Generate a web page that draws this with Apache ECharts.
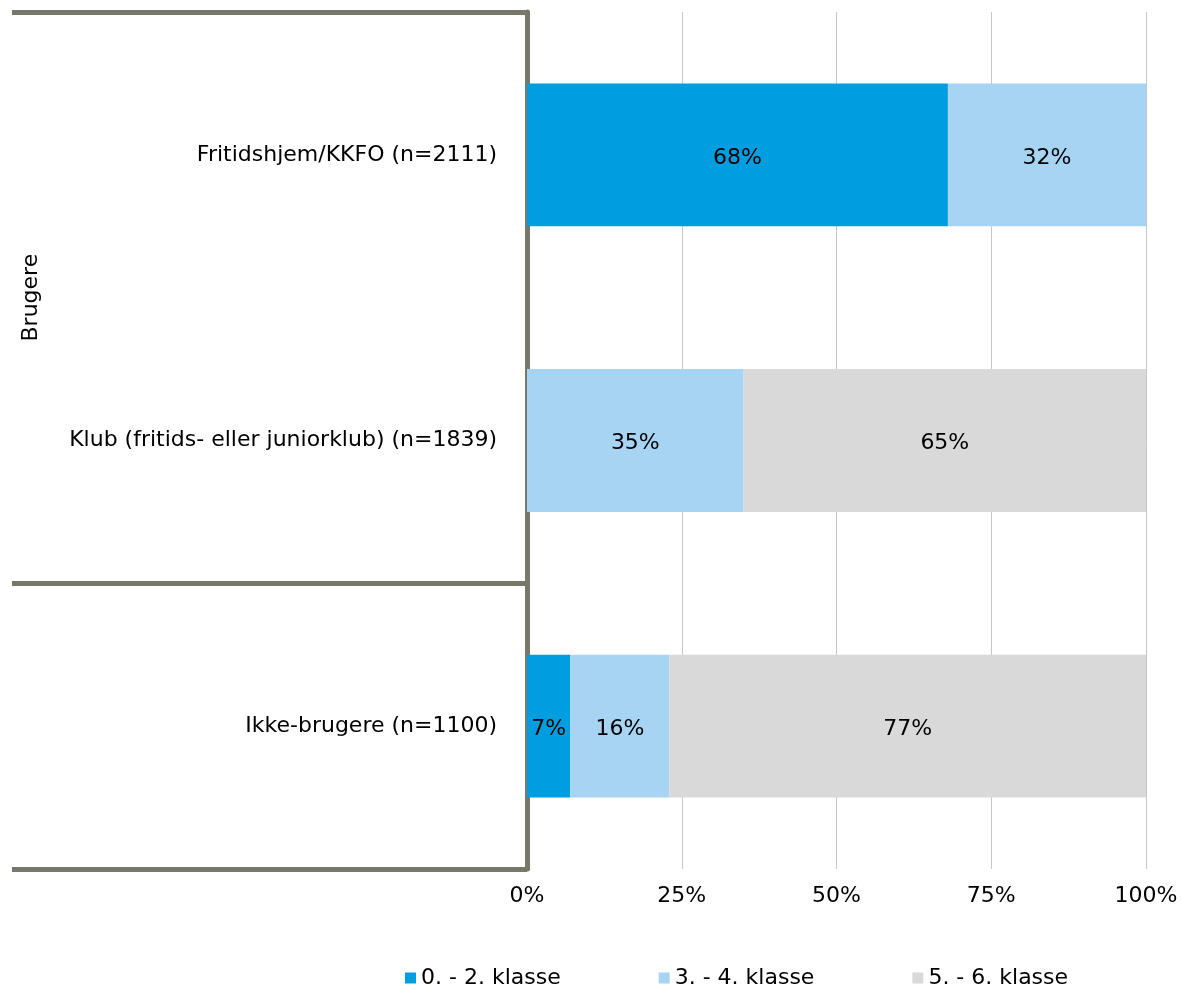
<!DOCTYPE html>
<html>
<head>
<meta charset="utf-8">
<script src="https://cdn.jsdelivr.net/npm/echarts@6/dist/echarts.min.js"></script>
<style>
  html, body { margin: 0; padding: 0; background: #fff; }
  #chart { width: 1181px; height: 987px; }
</style>
</head>
<body>
<div id="chart"></div>
<script>
const categories = ['Fritidshjem/KKFO (n=2111)', 'Klub (fritids- eller juniorklub) (n=1839)', 'Ikke-brugere (n=1100)']
const seriesNames = ['0. - 2. klasse', '3. - 4. klasse', '5. - 6. klasse']
const grade02 = [68, null, 7]
const grade34 = [32, 35, 16]
const grade56 = [null, 65, 77]
const tickValues = [0, 25, 50, 75, 100]
const groupLabel = 'Brugere'

const colors = ['#009ee0', '#a8d4f4', '#d9d9d9']
const font = 'DejaVu Sans, Verdana, sans-serif'
const fontSize = 22
const lineColor = '#77776a'

const chart = echarts.init(document.getElementById('chart'))

const makeSeries = (name, data, i) => ({
  name,
  type: 'bar',
  stack: 'total',
  data,
  barWidth: '50%',
  itemStyle: { color: colors[i] },
  label: {
    show: true,
    position: 'inside',
    offset: [0, 3],
    color: '#000',
    fontFamily: font,
    fontSize,
    formatter: p => (p.value ? p.value + '%' : '')
  }
})

const option = {
  animation: false,
  textStyle: { fontFamily: font },
  grid: { left: 527, right: 35, top: 12, bottom: 118 },
  xAxis: {
    type: 'value',
    min: tickValues[0],
    max: tickValues[tickValues.length - 1],
    interval: 25,
    axisLine: { show: false },
    axisTick: { show: false },
    axisLabel: { color: '#000', fontSize, fontFamily: font, margin: 16, formatter: v => v + '%' },
    splitLine: { lineStyle: { color: '#c6c6c6', width: 1 } }
  },
  yAxis: {
    type: 'category',
    inverse: true,
    data: categories,
    axisLine: { show: true, lineStyle: { color: lineColor, width: 5 } },
    axisTick: {
      show: true,
      length: 515,
      interval: (index) => index !== 1,
      lineStyle: { color: lineColor, width: 5 }
    },
    axisLabel: { color: '#000', fontSize, fontFamily: font, margin: 30, padding: [6, 0, 0, 0] }
  },
  legend: {
    top: 962,
    left: 400,
    icon: 'rect',
    itemWidth: 11,
    itemHeight: 11,
    itemGap: 98,
    textStyle: { color: '#000', fontSize, fontFamily: font },
    data: seriesNames
  },
  series: [
    makeSeries(seriesNames[0], grade02, 0),
    makeSeries(seriesNames[1], grade34, 1),
    makeSeries(seriesNames[2], grade56, 2)
  ]
}

chart.setOption(option)

// group label centred over the first two categories
const y0 = chart.convertToPixel({ yAxisIndex: 0 }, categories[0])
const y1 = chart.convertToPixel({ yAxisIndex: 0 }, categories[1])
chart.setOption({
  graphic: [{
    type: 'text',
    x: 31,
    y: (y0 + y1) / 2,
    rotation: Math.PI / 2,
    style: {
      text: groupLabel,
      fill: '#000',
      font: fontSize + 'px ' + font,
      align: 'center',
      verticalAlign: 'middle'
    }
  }]
})
</script>
</body>
</html>
